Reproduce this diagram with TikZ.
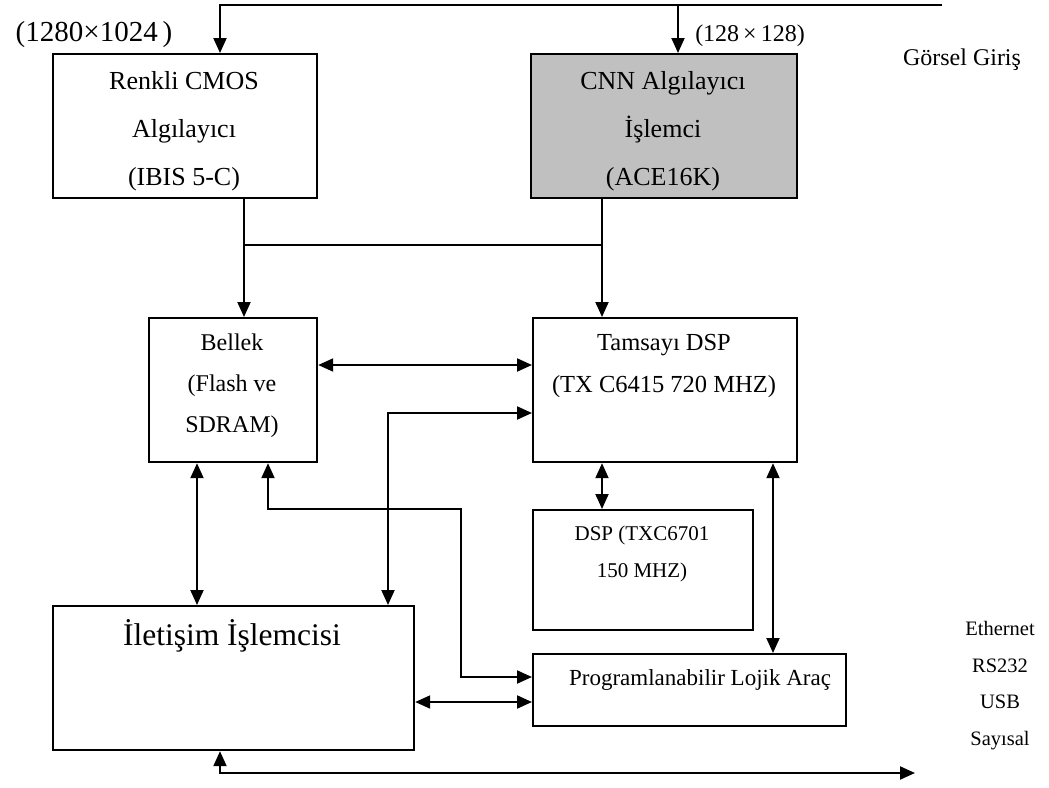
\documentclass[tikz,border=0pt]{standalone}
\usepackage{fontspec}
\setmainfont{Liberation Serif}
\usetikzlibrary{arrows.meta,calc}
\definecolor{chipgray}{RGB}{192,192,192}
\tikzset{
  blk/.style={draw, line width=2.2pt, anchor=north west, inner sep=0pt},
  conn/.style={line width=2pt},
  arr/.style={conn, -{Triangle[length=15pt,width=13pt]}},
  biarr/.style={conn, {Triangle[length=15pt,width=13pt]}-{Triangle[length=15pt,width=13pt]}},
  txt/.style={anchor=mid, inner sep=0pt, font=\fontsize{#1}{#1}\selectfont},
}
\begin{document}
\begin{tikzpicture}[x=1pt, y=-1pt]
\useasboundingbox (0,0) rectangle (1049,787);

% blocks
\node[blk, minimum width=264pt, minimum height=144pt] (renkli) at (52,53) {};
\node[blk, minimum width=266pt, minimum height=144pt, fill=chipgray] (cnn) at (530,53) {};
\node[blk, minimum width=168pt, minimum height=144pt] (bellek) at (148,317) {};
\node[blk, minimum width=264pt, minimum height=144pt] (tamsayi) at (532,317) {};
\node[blk, minimum width=220pt, minimum height=120pt] (dsp) at (532,509) {};
\node[blk, minimum width=361pt, minimum height=144pt] (iletisim) at (52,605) {};
\node[blk, minimum width=313pt, minimum height=72pt] (pla) at (532,653) {};

% block texts
\node[txt=26] (renkliA) at (184,87) {Renkli CMOS};
\node[txt=26] (renkliB) at (184,135) {Algılayıcı};
\node[txt=26] (renkliC) at (184,183) {(IBIS 5-C)};
\node[txt=26] (cnnA) at (663,87) {CNN Algılayıcı};
\node[txt=26] (cnnB) at (663,135) {İşlemci};
\node[txt=26] (cnnC) at (663,183) {(ACE16K)};
\node[txt=24] (bellekA) at (232,348) {Bellek};
\node[txt=24] (bellekB) at (232,389) {(Flash ve};
\node[txt=24] (bellekC) at (232,430) {SDRAM)};
\node[txt=24.5] (tamsayiA) at (664,348) {Tamsayı DSP};
\node[txt=24.5] (tamsayiB) at (664,390) {(TX C6415 720 MHZ)};
\node[txt=21] (dspA) at (642,538) {DSP (TXC6701};
\node[txt=21] (dspB) at (642,575) {150 MHZ)};
\node[txt=31.5] (iletisimA) at (232,643) {İletişim İşlemcisi};
\node[txt=23] (plaA) at (700,683) {Programlanabilir Lojik Araç};

% free labels
\node[txt=29] (res1) at (94,39) {(1280×1024\,)};
\node[txt=24] (res2) at (750,39) {(128\,×\,128)};
\node[txt=24] (gorsel) at (962,63) {Görsel Giriş};
\node[txt=20.5] (eth) at (1000,633) {Ethernet};
\node[txt=20.5] (rs) at (1000,670) {RS232};
\node[txt=20.5] (usb) at (1000,706) {USB};
\node[txt=20.5] (sayisal) at (1000,743) {Sayısal};

% visual input bus
\coordinate (gin) at (942,5);
\coordinate (gbr) at (678,5);
\draw[arr] (gin) -| ($(renkli.north west)+(168,0)$);
\draw[arr] (gbr) -- (gbr |- cnn.north);

% sensor outputs
\coordinate (rOut) at ($(renkli.south west)+(192,0)$);
\coordinate (cOut) at ($(cnn.south west)+(72,0)$);
\coordinate (bus) at (0,245);
\draw[arr] (rOut) -- (rOut |- bellek.north);
\draw[arr] (cOut) -- (cOut |- tamsayi.north);
\draw[conn] (rOut |- bus) -- (cOut |- bus);

% memory / processors
\draw[biarr] ($(bellek.north east)+(0,48)$) -- ($(tamsayi.north west)+(0,48)$);
\coordinate (iA) at ($(iletisim.north west)+(336,0)$);
\draw[biarr] (iA) |- ($(tamsayi.north west)+(0,96)$);
\coordinate (bA) at ($(bellek.south west)+(49,0)$);
\draw[biarr] (bA) -- (bA |- iletisim.north);
\coordinate (bB) at ($(bellek.south west)+(120,0)$);
\draw[biarr] (bB) |- (461,509) |- ($(pla.north west)+(0,24)$);
\coordinate (tA) at (cOut |- tamsayi.south);
\draw[biarr] (tA) -- (tA |- dsp.north);
\coordinate (tB) at ($(tamsayi.south west)+(241,0)$);
\draw[biarr] (tB) -- (tB |- pla.north);
\draw[biarr] ($(iletisim.north east)+(0,97)$) -- ($(pla.north west)+(0,49)$);

% external ports
\coordinate (iB) at ($(iletisim.south west)+(168,0)$);
\coordinate (ext) at (915,773);
\draw[biarr] (iB) |- (ext);
\end{tikzpicture}
\end{document}
